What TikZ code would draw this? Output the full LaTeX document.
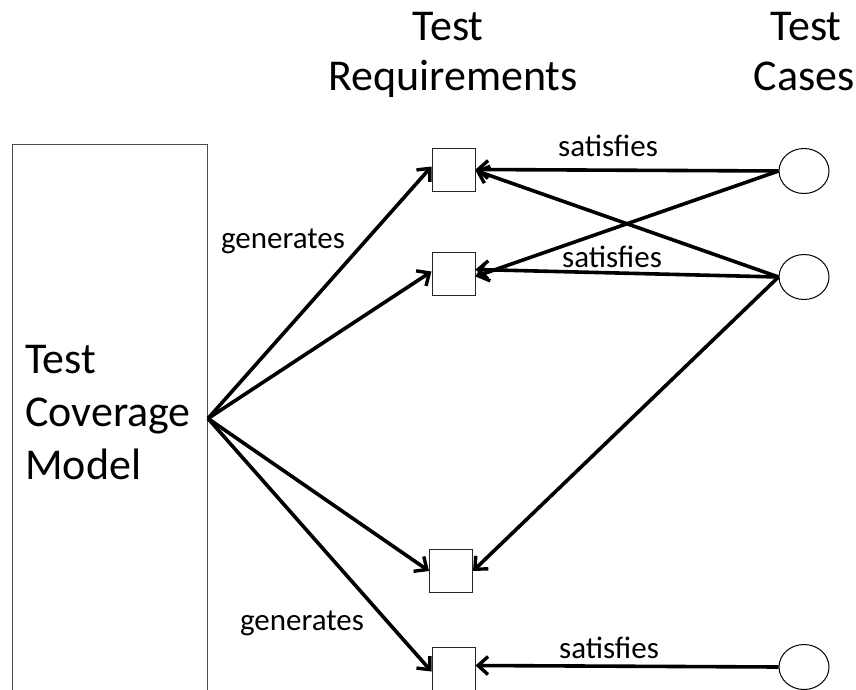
\documentclass[tikz,border=0pt]{standalone}
\usepackage{fontspec}
\setmainfont{Carlito}
\usetikzlibrary{arrows.meta,shapes.geometric}
\begin{document}
\begin{tikzpicture}[x=1pt,y=-1pt,
  bigtxt/.style={font=\fontsize{44}{53}\selectfont, inner sep=0pt},
  lbl/.style={font=\fontsize{31}{37}\selectfont, inner sep=0pt, anchor=base},
  reqbox/.style={draw=black!85, line width=1pt, minimum width=43pt, minimum height=43pt, inner sep=0pt},
  casenode/.style={draw=black, line width=1pt, ellipse, minimum width=50pt, minimum height=45pt, inner sep=0pt},
  conn/.style={line width=3.6pt, -{Straight Barb[length=10pt,width=18pt,line width=3.4pt]}}
]
\useasboundingbox (0,0) rectangle (856,690);
% model box
\node[draw=black!70, line width=1pt, minimum width=195pt, minimum height=548pt, inner sep=0pt, anchor=north west] (tcm) at (12,144) {};
\node[bigtxt, anchor=base west] (t1) at (25,373) {Test};
\node[bigtxt, anchor=base west] (t2) at (25,426) {Coverage};
\node[bigtxt, anchor=base west] (t3) at (25,479) {Model};
% headers
\node[bigtxt, anchor=base] (h1) at (448,41) {Test};
\node[bigtxt, anchor=base] (h2) at (453,91) {Requirements};
\node[bigtxt, anchor=base] (h3) at (806,41) {Test};
\node[bigtxt, anchor=base] (h4) at (804,91) {Cases};
% requirement boxes
\node[reqbox] (r1) at (453.5,169.5) {};
\node[reqbox] (r2) at (453.5,273.5) {};
\node[reqbox] (r3) at (451,571) {};
\node[reqbox] (r4) at (453.5,668.5) {};
% test cases
\node[casenode] (c1) at (804,171) {};
\node[casenode] (c2) at (804,277) {};
\node[casenode] (c3) at (804,667) {};
% generates
\draw[conn] (tcm.east) -- ([yshift=3pt]r1.west);
\draw[conn] (tcm.east) -- ([yshift=2pt]r2.west);
\draw[conn] (tcm.east) -- (r3.west);
\draw[conn] (tcm.east) -- ([yshift=-3pt]r4.west);
% satisfies
\draw[conn] (c1.west) -- (r1.east);
\draw[conn] (c1.west) -- ([yshift=-3pt]r2.east);
\draw[conn] (c2.west) -- ([yshift=-1pt]r1.east);
\draw[conn] (c2.west) -- ([yshift=4pt]r2.east);
\draw[conn] (c2.west) -- (r3.east);
\draw[conn] (c3.west) -- ([yshift=3pt]r4.east);
% labels
\node[lbl] (s1) at (608,157) {satisfies};
\node[lbl] (s2) at (612,267) {satisfies};
\node[lbl] (s3) at (609,658) {satisfies};
\node[lbl] (g1) at (283,248) {generates};
\node[lbl] (g2) at (302,630) {generates};
\end{tikzpicture}
\end{document}
